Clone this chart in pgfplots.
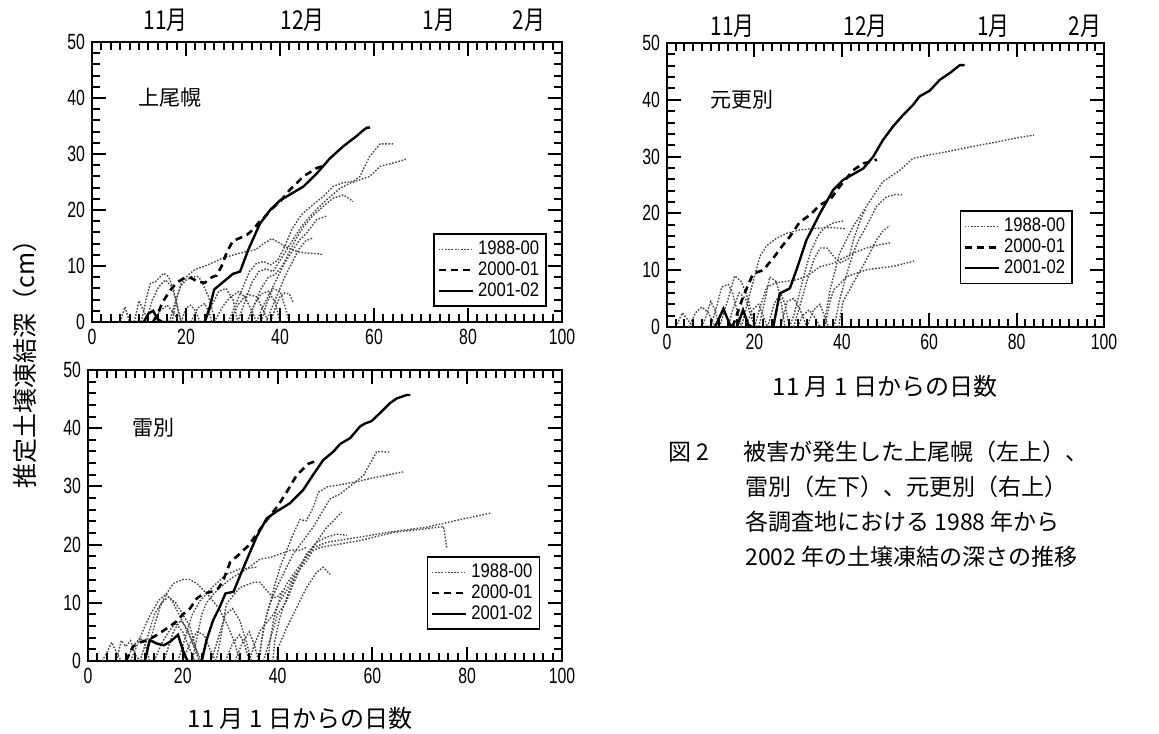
\documentclass[border=0pt]{standalone}
\usepackage{fontspec}
\usepackage{pgfplots}
\pgfplotsset{compat=1.18}
\setmainfont{Noto Sans CJK JP}
\newfontfamily\numfont[FakeStretch=0.72]{Liberation Sans}
\newfontfamily\legfont[FakeStretch=0.85]{Liberation Sans}
\newfontfamily\monfont[FakeStretch=0.8]{Noto Sans CJK JP}

\tikzset{tk/.style={black, line width=1pt}}
\newcommand{\boxticks}{%
  \pgfplotsinvokeforeach{2,4,...,98}{%
    \draw[tk] (axis cs:##1,0) -- ++(0pt,4pt);
    \draw[tk] (axis cs:##1,50) -- ++(0pt,-4pt);}
  \pgfplotsinvokeforeach{20,40,60,80}{%
    \draw[tk] (axis cs:##1,0) -- ++(0pt,7pt);
    \draw[tk] (axis cs:##1,50) -- ++(0pt,-7pt);}
  \pgfplotsinvokeforeach{2,4,...,48}{%
    \draw[tk] (axis cs:0,##1) -- ++(4pt,0pt);
    \draw[tk] (axis cs:100,##1) -- ++(-4pt,0pt);}
  \pgfplotsinvokeforeach{10,20,30,40}{%
    \draw[tk] (axis cs:0,##1) -- ++(7pt,0pt);
    \draw[tk] (axis cs:100,##1) -- ++(-7pt,0pt);}
}

\pgfplotsset{
  panel/.style={
    scale only axis,
    xmin=0, xmax=100, ymin=0, ymax=50,
    xtick={0,20,...,100}, ytick={0,10,...,50},
    minor x tick num=9, minor y tick num=4,
    tick align=inside,
    major tick length=7pt, minor tick length=4pt,
    axis line style={line width=1pt},
    tick style={black, line width=1pt},
    ticklabel style={font=\fontsize{11pt}{12pt}\selectfont\numfont},
    /pgf/number format/assume math mode=true,
    legend cell align=left,
    legend style={draw=black, line width=0.8pt, fill=white, inner sep=1.5pt,
      row sep=-2pt, font=\fontsize{9.8pt}{10pt}\selectfont\legfont},
  },
  dotleg/.style={black!72, line width=0.7pt, dash pattern=on 0.8pt off 0.8pt},
  dots/.style={forget plot, black!72, line width=0.7pt, dash pattern=on 0.8pt off 0.8pt},
  dashb/.style={black, line width=1.3pt, dash pattern=on 3.5pt off 2.5pt},
  solb/.style={black, line width=1.2pt},
}

\begin{document}
\begin{tikzpicture}
\path[use as bounding box] (0,0) rectangle (579.5pt,366.5pt);

% ---------------- Panel 1: 上尾幌 ----------------
\begin{axis}[panel, at={(46pt,205.5pt)}, anchor=south west, width=235pt, height=140pt,
  legend style={at={(0.968,0.054)}, anchor=south east}]
\addplot[dotleg] coordinates {(17,0)(18,4)(19,7)(20.6,8.5)(22,9.4)(24,10)(26,10.7)(28,11.5)(29,11.7)(31,12.2)(33,12.6)(34.8,12.9)(36.5,14)(38.3,14.9)(39.5,14.3)(41.1,13.5)(42.6,12.9)(44,12.5)(46,12.3)(48,12.2)(49.2,12)};
\addplot[dots] coordinates {(10.5,0)(11.5,4)(12.4,6.9)(13.5,7.2)(15.2,8.7)(16.3,8.1)(17.4,5.7)(18.4,1.5)(19,0)};
\addplot[dots] coordinates {(11.5,0)(12.8,3.9)(14.2,6.3)(15.6,7.5)(17,6.3)(18,3.5)(19,0)};
\addplot[dots] coordinates {(16.5,0)(17.5,3)(18.8,6.3)(20,7.5)(21.3,8.1)(22.7,8.1)(24,6)(24.8,4.5)(25.6,2)(26.2,0)};
\addplot[dots] coordinates {(6,0)(7,2.7)(8,0)};
\addplot[dots] coordinates {(9,0)(10,3.8)(11,2)(12,0)};
\addplot[dots] coordinates {(13,0)(14.5,2)(16,3)(17.5,1.5)(18.5,0)};
\addplot[dots] coordinates {(19,0)(20,2.5)(21,3)(22,2)(23,0)};
\addplot[dots] coordinates {(21,0)(22.5,2.5)(24,3.3)(25,1.5)(25.5,0)};
\addplot[dots] coordinates {(26,0)(28,3)(29.5,4.5)(31.2,5.4)(32.5,4.5)(34,2)(35,0)};
\addplot[dots] coordinates {(29.5,0)(31,3)(33,5)(35,4.5)(36.5,2)(37.5,0)};
\addplot[dots] coordinates {(33,0)(34.5,3)(36,5)(37.5,5.5)(39,3.5)(40,0)};
\addplot[dots] coordinates {(36,0)(37,3)(38.5,6)(40,5.5)(41,3)(42,0)};
\addplot[dots] coordinates {(24,0)(25.5,3)(27,5.5)(28.5,6)(30,4)(31,0)};
\addplot[dots] coordinates {(29,0)(30.5,3)(32,6)(33.5,9)(35,10.5)(36.5,10.8)(38,10.2)(39.5,11)(41,13.5)(42.5,16.5)(44,18.5)(45,19.5)(47.1,21)(49.2,22.4)(51.3,24.2)(53.5,24.9)(55.6,25.1)(57,26)(59.1,29.6)(61.3,31.8)(64.1,31.8)};
\addplot[dots] coordinates {(31,0)(32.5,3.5)(34,7)(35.5,9)(37,9.5)(38.5,9)(40,11)(41.5,13)(43,15)(44.5,17)(46,18.5)(48,20.3)(49.9,21.8)(52.8,23.9)(54.9,24.8)(57,25.4)(59.1,26)(61.3,27.8)(64.1,28.4)(67,29.1)};
\addplot[dots] coordinates {(33,0)(34.5,3)(36,6)(37.5,8)(39,8.5)(40.5,10)(42,12.5)(43.5,15)(45,17)(47,19)(49,20.5)(51.3,22.1)(53.5,22.7)(55.6,21.5)};
\addplot[dots] coordinates {(35,0)(36.5,3)(38,5.5)(39.5,8)(41,10.5)(42.5,12.5)(44,14.5)(45.7,15.9)(47.8,18.3)(49.9,18.9)};
\addplot[dots] coordinates {(37,0)(38,2)(39.5,5)(41,8)(42.5,10.5)(44,13)(45.5,14.5)(47,15)};
\addplot[dots] coordinates {(38,0)(39,2.5)(40,4.5)(41,5.2)(42,5)(42.8,3.5)};
\addplot[dashb] coordinates {(13,0)(14,1.5)(15,3.5)(16.5,5.5)(18,7)(19.5,7.8)(21,7.9)(22.5,7.2)(24,7)(25.5,8)(26.5,8.3)(27.6,10)(28.7,12.5)(30,14.5)(31.5,15)(33,15.6)(34.3,16.5)(35.5,17.8)(36.5,18.5)(38,20)(40,21.5)(42,23.5)(45,26)(47.8,27.5)(49,27.8)};
\addplot[solb] coordinates {(8,0)(11,0)(12,1.5)(13,2)(14,0.5)(15,0)(24,0)(25,2.5)(26,5.8)(28,7.2)(30,8.6)(31.5,9)(33.3,13)(35.7,17.5)(37.9,20)(40,21.7)(42,22.7)(45,24.2)(47.8,26.5)(50.6,29.2)(53.5,31.4)(56.3,33.2)(57.8,34.3)(58.5,34.7)(59.2,34.7)};
\boxticks
\legend{1988-00,2000-01,2001-02}
\end{axis}

% ---------------- Panel 2: 雷別 ----------------
\begin{axis}[panel, at={(44pt,36pt)}, anchor=south west, width=237pt, height=145.5pt,
  legend style={at={(0.954,0.107)}, anchor=south east}]
\addplot[dotleg] coordinates {(36,0)(36.3,1.1)(37,5.7)(38.4,9.8)(39.8,12.6)(41.9,16.1)(43.3,18.4)(45.4,20.7)(47.5,23)(49.6,25.9)(51.1,27.9)(53.2,28.7)(56,30.5)(58.1,31.9)(59.9,34.5)(60.9,36)(63.7,35.9)};
\addplot[dots] coordinates {(36,0)(36.6,3.4)(37.7,8)(39.1,12.1)(40.5,16.1)(41.9,19)(43.3,21.8)(44.7,24.3)(46.1,24.1)(47.5,26.4)(48.6,29)(50.4,29.9)(56,30.7)(60.9,31.6)(66.5,32.5)};
\addplot[dots] coordinates {(38,0)(38.4,3.4)(39.1,6.9)(40.5,10.9)(41.9,13.2)(43.3,14.9)(45.4,17.2)(47.5,19.5)(50.4,20.4)(57.4,21.3)(64,22.2)(71.5,23)(78,24.2)(84.9,25.4)};
\addplot[dots] coordinates {(34,0)(34.9,2.3)(36.3,5.2)(39.1,8)(40.5,10.3)(41.9,12.1)(43.3,14.4)(46.1,17.2)(47.5,19)(48.9,19.5)(57.4,20.7)(64.4,22.1)(70,22.6)(75,23.1)(75.7,19.5)};
\addplot[dots] coordinates {(39,0)(39.4,3.4)(40.5,7.5)(41.9,10.9)(43.3,13.8)(44.7,16.1)(46.1,18.4)(48.2,20.4)(50.4,21.3)(52.5,21.8)(54.6,21.6)};
\addplot[dots] coordinates {(37,0)(38.5,4)(40,8)(41.9,10.3)(43.3,13.2)(45.4,17)(47.5,19.5)(48.9,21.3)(50.4,23)(51.8,24.1)(53.5,25.6)};
\addplot[dots] coordinates {(39.8,0)(40.1,2.3)(41.9,5.7)(43.3,8)(44.7,10.3)(46.1,12.6)(48.2,15.2)(49.6,16.1)(51.1,14.9)};
\addplot[dots] coordinates {(22,0)(23,4)(24,8)(25,10)(26.5,11.5)(27.8,12.6)(30.6,14.4)(33.5,15.8)(36.3,17.5)(38.4,17.8)(40.5,18.4)(42.6,19)(44.7,19)(46,19.5)};
\addplot[dots] coordinates {(19,0)(20.5,4)(22,8)(23.6,10.3)(26,12.5)(29.2,14.9)(32,15.8)(35.6,16.1)};
\addplot[dots] coordinates {(12,0)(13,3)(14,6)(15.2,9.3)(16.5,11.5)(18,13.3)(20,14)(21.5,14)(23,13.3)(25.7,11)(27.8,8.8)(29.5,6)(31,3)(32,0)};
\addplot[dots] coordinates {(9,0)(10.5,3)(12,6)(13.5,8.5)(15,10.5)(16.5,11.5)(18,10)(19.5,7.5)(21,5)(22.5,2.5)(24,0)};
\addplot[dots] coordinates {(27,0)(28,4)(29.2,9.8)(32,12.6)(34.9,13.5)(36.3,13.5)(37.7,12.1)(39.1,10.9)(40,11)(41,12)};
\addplot[dots] coordinates {(3,0)(4,1.5)(5,3.2)(6,1.5)(7,0)};
\addplot[dots] coordinates {(6,0)(7,3.5)(8,2.5)(9,3.5)(10,1)(11,0)};
\addplot[dots] coordinates {(8,0)(9.5,2.5)(11,4)(12,3)(13,0)};
\addplot[dots] coordinates {(14,0)(15.5,3)(17,5)(18.5,6.5)(20,5)(21.5,2)(22.5,0)};
\addplot[dots] coordinates {(16,0)(18,5)(19.5,7)(21,5.5)(22.5,2)(23.5,0)};
\addplot[dots] coordinates {(20,0)(21.5,3)(23,5)(24.5,4.5)(26,1.5)(27,0)};
\addplot[dots] coordinates {(26,0)(27.5,4)(29,8)(30.5,9)(32,7)(33.5,3)(34.5,0)};
\addplot[dots] coordinates {(29,0)(30.5,3)(32,4.5)(33,3)(34,0)};
\addplot[dots] coordinates {(11,0)(12.5,4)(14,8)(15.5,10)(17,11)(18.5,10)(20,8)(21.5,6)(22.5,3)(23.5,0)};
\addplot[dots] coordinates {(31,0)(32.5,3)(34,5)(35,3)(36,0)};
\addplot[dashb] coordinates {(8,0)(9.5,2.5)(11,3.2)(12.5,3.6)(14,4.2)(15.5,5)(17,5.8)(18.7,6.8)(20,8)(21.5,9)(23,10.8)(24.5,11.6)(26,11.9)(27.5,12.5)(28.5,13.8)(30,17)(32,18.4)(33.8,19.8)(35.6,21.8)(37.5,24)(40.1,26.7)(41.9,29)(44,31.9)(46.5,33.9)(48.6,34.5)};
\addplot[solb] coordinates {(8,0)(12,0)(13,3.6)(14.5,3)(16,2.7)(17.3,3.3)(19,4.5)(20,1.9)(21,0)(24,0)(25,3.6)(26.4,7)(27.8,9.3)(29,11.6)(30.7,11.9)(32,14.5)(33.5,17.4)(35.6,21.4)(37.7,24.5)(39.8,25.7)(42.6,27.1)(45.4,29.4)(47.5,32)(49.6,34.5)(51.8,36)(53.2,37.3)(55.3,38.3)(57.4,40.3)(58.4,40.8)(59.8,41.2)(61.6,42.6)(63.7,44.3)(65.1,45.1)(67.2,45.7)(68,45.7)};
\boxticks
\legend{1988-00,2000-01,2001-02}
\end{axis}

% ---------------- Panel 3: 元更別 ----------------
\begin{axis}[panel, at={(333.5pt,203pt)}, anchor=south west, width=218.5pt, height=142pt,
  legend style={at={(0.929,0.151)}, anchor=south east}]
\addplot[dotleg] coordinates {(35.7,0)(36.1,1.2)(37.3,6.5)(39.5,13)(42.6,17.7)(45.6,21.2)(49.4,25.6)(53.3,27.6)(56.3,29.7)(60,30.3)(65,31)(70,31.8)(75,32.5)(80,33.3)(84,33.8)};
\addplot[dots] coordinates {(38.2,0)(38.4,0.6)(39.5,4.8)(41,9)(42.6,13)(44,15.5)(45.6,17.7)(47.9,21.2)(50.2,22.9)(52,23.3)(54,23.3)};
\addplot[dots] coordinates {(39.3,0)(39.5,1.2)(40.3,4.5)(42.6,7.7)(45.6,11.8)(47.9,15.3)(49.5,17)(51,17.8)};
\addplot[dots] coordinates {(20,0)(21.5,4)(22.8,7)(25,7.8)(27,8)(29.6,8.3)(31.9,8.9)(35,10.6)(38,11.2)(40,12)(42.6,13)(45.6,13.9)(48,14.4)(51,14.8)};
\addplot[dots] coordinates {(36.2,0)(36.6,1.9)(37.4,4.8)(38.2,6.6)(39.7,7.7)(41.2,8.9)(45.8,10.1)(51.9,10.7)(56.5,11.6)};
\addplot[dots] coordinates {(17,0)(18,3)(19.7,8)(21.3,12.5)(22.8,14.3)(25,15.6)(27.4,16.5)(30.4,17.1)(34.2,17.4)(38,17.5)(41,17.3)};
\addplot[dots] coordinates {(28,0)(29,2)(30,5)(31,8)(32,11)(33,13.5)(34.5,16)(36,17.5)(38,18.3)(40.5,18.7)};
\addplot[dots] coordinates {(29,0)(30.5,4)(32,8)(33.6,11.9)(35.1,13.9)(36.6,13.9)(38.2,12.4)(39.7,11.3)(41.6,12.1)(42.7,15.4)(44.3,18.9)(45.4,20.7)};
\addplot[dots] coordinates {(2,0)(3.5,2.5)(5,1)(6,0)};
\addplot[dots] coordinates {(5,0)(6.5,2.5)(8,3.5)(9.5,2.5)(11,0)};
\addplot[dots] coordinates {(8,0)(9,2)(10,4.5)(11,3)(12,0)};
\addplot[dots] coordinates {(10,0)(11.5,4)(12.5,7)(14,7.5)(15,6)(16,3)(17,0)};
\addplot[dots] coordinates {(12,0)(14,5)(15.5,9)(17,8)(18.5,5)(19.5,2)(20.5,0)};
\addplot[dots] coordinates {(14,0)(15,3)(16.5,6)(18,5)(19,2.5)(20,0)};
\addplot[dots] coordinates {(18,0)(19.5,3)(21,4)(22,2)(23,0)};
\addplot[dots] coordinates {(21,0)(22.5,5)(23.5,8.8)(25,8)(26,5)(27,0)};
\addplot[dots] coordinates {(23,0)(24.5,4)(26,6)(27,4)(28,0)};
\addplot[dots] coordinates {(26,0)(27.5,4.5)(29,5)(30.5,3)(32,0)};
\addplot[dots] coordinates {(30,0)(31,2)(32.5,3)(34,1.5)(35,0)};
\addplot[dots] coordinates {(32,0)(33.5,3)(35,4)(36,2)(37,0)};
\addplot[dashb] coordinates {(15,0)(17.4,5.3)(19.7,9.4)(22,10)(24.3,12.1)(26.2,14.1)(28.1,15.9)(30.4,18.5)(32.7,19.7)(35,21.5)(37.3,22.4)(39.5,24.7)(42.6,27.6)(44.9,28.8)(47.2,29.2)(48,29.5)};
\addplot[solb] coordinates {(8,0)(11,0)(12.9,3.2)(14.4,0.4)(15.5,0)(16,0)(17.4,3)(18.6,0.4)(19.5,0)(24.3,0)(25.8,5.9)(28.1,6.8)(29.6,10)(31.9,15.3)(35,20)(38,24.1)(40.3,25.9)(42.6,26.9)(44.9,27.9)(47.2,30)(49.4,32.9)(51.7,35.3)(54,37.3)(56.3,39.1)(57.8,40.6)(60.1,41.6)(62.4,43.5)(64.7,44.7)(67,46.1)(68.1,46.1)};
\boxticks
\legend{1988-00,2000-01,2001-02}
\end{axis}

% ---------------- texts ----------------
\begin{scope}[every node/.style={inner sep=0pt}]
\node[anchor=west, font=\fontsize{10.5pt}{12pt}\selectfont] at (69pt,317.5pt) {上尾幌};
\node[anchor=west, font=\fontsize{10.5pt}{12pt}\selectfont] at (65.9pt,152.5pt) {雷別};
\node[anchor=west, font=\fontsize{10.5pt}{12pt}\selectfont] at (355pt,316.5pt) {元更別};

\node[anchor=base, font=\fontsize{13pt}{14pt}\selectfont\monfont] at (82.85pt,351.5pt) {11月};
\node[anchor=base, font=\fontsize{13pt}{14pt}\selectfont\monfont] at (151.2pt,351.5pt) {12月};
\node[anchor=base, font=\fontsize{13pt}{14pt}\selectfont\monfont] at (219.5pt,351.5pt) {1月};
\node[anchor=base, font=\fontsize{13pt}{14pt}\selectfont\monfont] at (264.5pt,351.5pt) {2月};
\node[anchor=base, font=\fontsize{13pt}{14pt}\selectfont\monfont] at (366.2pt,348.5pt) {11月};
\node[anchor=base, font=\fontsize{13pt}{14pt}\selectfont\monfont] at (432.85pt,348.5pt) {12月};
\node[anchor=base, font=\fontsize{13pt}{14pt}\selectfont\monfont] at (496.65pt,348.5pt) {1月};
\node[anchor=base, font=\fontsize{13pt}{14pt}\selectfont\monfont] at (542.5pt,348.5pt) {2月};

\node[font=\fontsize{12pt}{14pt}\selectfont] at (150pt,7.5pt) {11 月 1 日からの日数};
\node[font=\fontsize{12pt}{14pt}\selectfont] at (442.5pt,173.5pt) {11 月 1 日からの日数};
\node[rotate=90, font=\fontsize{12.5pt}{14pt}\selectfont] at (12.5pt,187.5pt) {推定土壌凍結深（cm）};

\node[anchor=west, font=\fontsize{11.5pt}{14pt}\selectfont] at (334pt,140.5pt) {図 2};
\node[anchor=west, font=\fontsize{11.5pt}{14pt}\selectfont] at (371.5pt,140.5pt) {被害が発生した上尾幌（左上）、};
\node[anchor=west, font=\fontsize{11.5pt}{14pt}\selectfont] at (372.5pt,123pt) {雷別（左下）、元更別（右上）};
\node[anchor=west, font=\fontsize{11.5pt}{14pt}\selectfont] at (372.5pt,105.5pt) {各調査地における 1988 年から};
\node[anchor=west, font=\fontsize{11.5pt}{14pt}\selectfont] at (372.5pt,88pt) {2002 年の土壌凍結の深さの推移};
\end{scope}
\end{tikzpicture}
\end{document}
